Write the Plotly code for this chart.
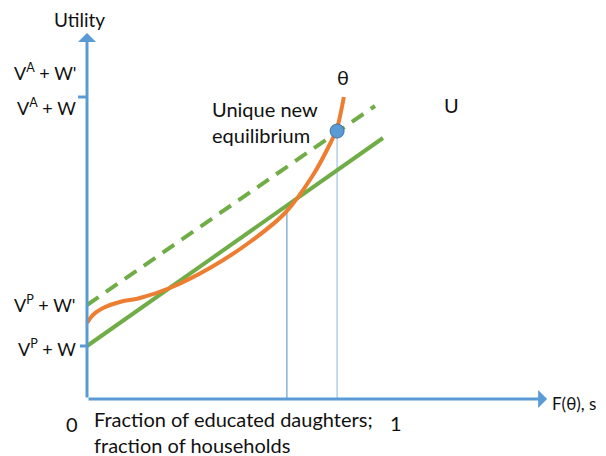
import plotly.graph_objects as go

# ---- data (x: fraction 0..1, y: utility in arbitrary units) ----
u_x = [0.0, 0.961]
u_y = [0.53, 2.61]
u2_x = [0.0, 0.935]
u2_y = [0.94, 2.93]
theta_x = [0.0, 0.019, 0.052, 0.107, 0.172, 0.269, 0.399, 0.529, 0.643,
           0.734, 0.792, 0.812, 0.834]
theta_y = [0.76, 0.84, 0.91, 0.97, 1.01, 1.11, 1.31, 1.57, 1.86,
           2.24, 2.57, 2.71, 3.02]
old_eq_x = 0.649
old_eq_y = 1.91
new_eq_x = 0.812
new_eq_y = 2.68
y_tick_vals = [3.02, 0.53]
y_labels = ["V<sup>A</sup> + W'", "V<sup>A</sup> + W", "V<sup>P</sup> + W'", "V<sup>P</sup> + W"]
y_label_pos = [3.27, 2.92, 0.95, 0.51]

BLUE = "#5b9bd5"
GREEN = "#70ad47"
ORANGE = "#ed7d31"
FONT = "Lato"

fig = go.Figure()

# vertical guide lines
fig.add_trace(go.Scatter(x=[old_eq_x, old_eq_x], y=[0, old_eq_y], mode="lines",
                         line=dict(color="#6d9fd2", width=1.2), hoverinfo="skip"))
fig.add_trace(go.Scatter(x=[new_eq_x, new_eq_x], y=[0, new_eq_y], mode="lines",
                         line=dict(color="#b8d1ec", width=1.6), hoverinfo="skip"))

# tick marks on the y axis
for tv, tl in zip(y_tick_vals, [-0.029, -0.023]):
    fig.add_trace(go.Scatter(x=[tl, 0], y=[tv, tv], mode="lines",
                             line=dict(color=BLUE, width=3), hoverinfo="skip"))

# U lines
fig.add_trace(go.Scatter(x=u_x, y=u_y, mode="lines",
                         line=dict(color=GREEN, width=4), hoverinfo="skip"))
fig.add_trace(go.Scatter(x=u2_x, y=u2_y, mode="lines",
                         line=dict(color=GREEN, width=4, dash="14px,9px"), hoverinfo="skip"))
# theta curve
fig.add_trace(go.Scatter(x=theta_x, y=theta_y, mode="lines",
                         line=dict(color=ORANGE, width=4, shape="spline", smoothing=0.8),
                         hoverinfo="skip"))
# equilibrium dot
fig.add_trace(go.Scatter(x=[new_eq_x], y=[new_eq_y], mode="markers",
                         marker=dict(color=BLUE, size=14, line=dict(color="#41719c", width=1)),
                         hoverinfo="skip"))

# axes with arrows
fig.add_annotation(x=0, y=3.66, ax=0, ay=0, xref="x", yref="y", axref="x", ayref="y",
                   showarrow=True, arrowhead=1, arrowsize=1, arrowwidth=3, arrowcolor=BLUE, text="")
fig.add_annotation(x=1.494, y=0, ax=0, ay=0, xref="x", yref="y", axref="x", ayref="y",
                   showarrow=True, arrowhead=1, arrowsize=1, arrowwidth=3, arrowcolor=BLUE, text="")

tf = dict(family=FONT, size=20, color="#111111")
lf = dict(family=FONT, size=18, color="#111111")
for lab, ly in zip(y_labels, y_label_pos):
    fig.add_annotation(x=-0.029, y=ly, xref="x", yref="y", text=lab, showarrow=False,
                       xanchor="right", yanchor="middle", font=lf)
fig.add_annotation(x=-0.023, y=3.80, xref="x", yref="y", text="Utility", showarrow=False,
                   xanchor="center", yanchor="middle", font=dict(family=FONT, size=19, color="#111111"))
fig.add_annotation(x=0.831, y=3.22, xref="x", yref="y", text="θ", showarrow=False,
                   xanchor="center", yanchor="middle", font=tf)
fig.add_annotation(x=1.185, y=2.94, xref="x", yref="y", text="U", showarrow=False,
                   xanchor="center", yanchor="middle", font=tf)
fig.add_annotation(x=0.4, y=2.77, xref="x", yref="y", text="Unique new<br>equilibrium",
                   showarrow=False, xanchor="left", yanchor="middle", align="left", font=tf)
fig.add_annotation(x=1.503, y=-0.04, xref="x", yref="y", text="F(θ), s", showarrow=False,
                   xanchor="left", yanchor="middle", font=dict(family=FONT, size=17, color="#111111"))
fig.add_annotation(x=-0.049, y=-0.25, xref="x", yref="y", text="0", showarrow=False,
                   xanchor="center", yanchor="middle", font=tf)
fig.add_annotation(x=1.003, y=-0.24, xref="x", yref="y", text="1", showarrow=False,
                   xanchor="center", yanchor="middle", font=tf)
fig.add_annotation(x=0.016, y=-0.33, xref="x", yref="y",
                   text="Fraction of educated daughters;<br>fraction of households",
                   showarrow=False, xanchor="left", yanchor="middle", align="left", font=tf)

# page body has an 8px margin: size the figure so that it fills the window
OFF = 8
fig.update_layout(
    width=606 - OFF, height=456 - OFF, margin=dict(l=0, r=0, t=0, b=0),
    paper_bgcolor="white", plot_bgcolor="white", showlegend=False,
    xaxis=dict(range=[(OFF - 87) / 308, (606 - 87) / 308], visible=False, fixedrange=True),
    yaxis=dict(range=[(399 - 456) / 100, (399 - OFF) / 100], visible=False, fixedrange=True),
)
fig.write_html("out.html")
